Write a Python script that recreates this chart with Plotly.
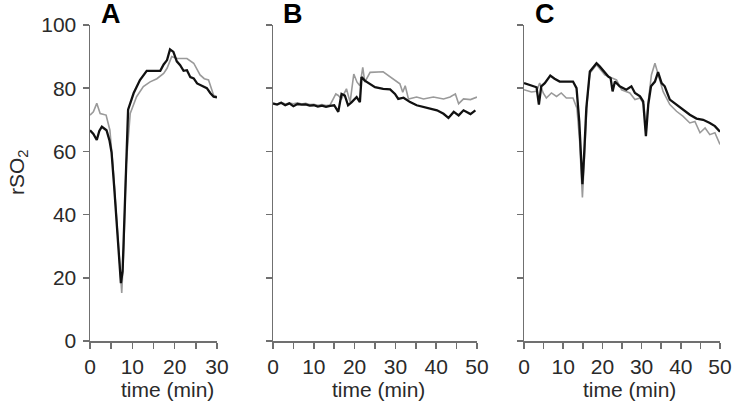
import plotly.graph_objects as go

# ---------------- data ----------------
a_black_t = [0, 0.8, 1.6, 2.2, 2.8, 3.9, 4.6, 5.1, 5.7, 6.3, 6.9, 7.3, 7.7, 8.3, 9.0, 10.3, 11.8, 13.4, 14.5, 16.6, 17.4, 18.2, 18.9, 19.7, 20.5, 21.3, 22.1, 22.9, 23.7, 24.5, 25.3, 26, 26.8, 27.6, 28.4, 29.2, 30]
a_black_y = [66.7, 65.5, 63.6, 66.5, 67.8, 66.7, 63.5, 59.6, 49, 38.3, 27, 18.3, 22, 49, 73.2, 78.4, 82.6, 85.5, 85.5, 85.5, 87.5, 88.9, 92.3, 91.5, 88.5, 87.3, 85.5, 85.7, 83.5, 83.1, 81.5, 81, 80.5, 80, 78.5, 77.3, 77.1]
a_gray_t = [0, 0.8, 1.6, 2.4, 3.8, 4.7, 5.5, 6.3, 7.0, 7.5, 8.0, 8.5, 9.5, 11, 12.6, 14.2, 15.8, 17.4, 18.2, 19.3, 20.5, 22.9, 24.5, 26, 27, 28, 29.2, 30]
a_gray_y = [71.5, 72.5, 75.2, 72, 71.5, 66.7, 54, 39, 25, 15.2, 30, 55, 72, 77.3, 80.5, 82, 83, 84.7, 86.3, 90, 89.4, 89.4, 87.9, 84.2, 83, 82.6, 77.8, 77.3]

b_black_t = [0, 1, 2, 3, 4, 5, 6, 7, 8, 9, 10, 11, 12, 13, 14, 15, 16, 16.8, 17.6, 18.4, 19.3, 20.5, 21.3, 21.7, 22.5, 23.8, 25, 27, 28.7, 29.9, 30.7, 32, 33.6, 35.2, 36.9, 38.5, 40.2, 41.8, 43, 44.3, 45.5, 46.7, 48.4, 49.6]
b_black_y = [75.1, 74.8, 75.4, 74.6, 75.2, 74.3, 75.0, 74.8, 74.9, 74.5, 74.6, 74.2, 74.5, 74.1, 74.4, 74.6, 72.5, 78.2, 77.7, 74.6, 75.6, 77.2, 75.6, 83.5, 82.4, 81.4, 80.3, 79.8, 79.6, 78.2, 76.6, 77.0, 75.6, 74.6, 74.0, 73.5, 73.0, 71.9, 70.6, 72.5, 71.4, 73.0, 71.8, 73.0]
b_gray_t = [0, 1, 2, 3, 4, 5, 6, 7, 8, 9, 10, 11, 12, 13, 14, 15.4, 16, 16.8, 18, 18.9, 19.8, 20.6, 21.3, 22, 22.5, 23.8, 27, 29.5, 31.1, 31.8, 32.4, 33.2, 35.2, 36.9, 39.3, 41.8, 43.4, 44.7, 45.5, 46.7, 48.4, 50]
b_gray_y = [75.3, 75.0, 75.5, 75.0, 75.3, 75.1, 75.4, 75.0, 75.2, 74.8, 74.9, 74.6, 74.8, 74.5, 74.7, 78.2, 77.7, 76.6, 79.8, 75.6, 84.5, 81.9, 80.8, 86.6, 81.9, 85.0, 85.2, 82.9, 81.4, 78.7, 80.8, 76.6, 77.2, 76.6, 77.2, 76.6, 77.2, 78.2, 75.1, 76.6, 76.4, 77.2]

c_black_t = [0, 1.4, 3.2, 3.8, 4.4, 5.3, 6.7, 7.8, 9.1, 12.5, 13.4, 14.1, 14.7, 14.9, 15.3, 15.9, 16.8, 17.6, 18.5, 19.3, 20.6, 21.5, 22.1, 22.6, 23.2, 24.4, 26.1, 27.4, 28.3, 29.6, 30.4, 31.1, 31.7, 32.4, 33.4, 34.2, 35.1, 35.9, 37.2, 38.9, 40.6, 42.3, 44, 45.7, 47.4, 48.7, 50]
c_black_y = [81.6, 81.1, 80.3, 74.8, 80.6, 81.6, 84, 83, 82.1, 82.1, 80, 69.5, 55.9, 49.6, 58, 73.7, 85.3, 86.6, 87.9, 86.9, 84.8, 83.7, 83.2, 79, 82.1, 80.6, 79.5, 80.6, 78.5, 77.4, 75.8, 64.8, 74.8, 80.6, 82.1, 85.1, 81.6, 80.6, 76.4, 74.8, 73.1, 71.6, 70.4, 70, 69, 68, 66.2]
c_gray_t = [0, 1.0, 1.9, 3.2, 4.0, 4.9, 5.7, 7.0, 8.3, 9.5, 10.8, 12.5, 13.5, 14.2, 14.9, 15.5, 16.1, 16.8, 18.5, 20.6, 23.6, 24.9, 27, 28.3, 29.6, 30.6, 31.1, 31.7, 32.5, 33.4, 34.2, 35.5, 37.2, 38.9, 40.6, 42.3, 43.6, 44.9, 46.2, 47.4, 48.7, 50]
c_gray_y = [79.5, 79.0, 78.8, 79.0, 81.6, 78.5, 76.9, 78.5, 77.4, 78.5, 76.9, 76.9, 73.7, 63.2, 45.4, 60, 75.6, 84.7, 87.4, 84.2, 82.6, 79.5, 78.5, 76.4, 76.9, 74.8, 65.9, 75.8, 84.2, 87.9, 84.7, 78.9, 74.8, 72.7, 71.1, 69.0, 69.5, 65.9, 67.4, 65.3, 65.9, 62.2]

y_ticks = [0, 20, 40, 60, 80, 100]
y_tick_text = ["0", "20", "40", "60", "80", "100"]
a_x_ticks = [0, 5, 10, 15, 20, 25, 30]
a_x_text = ["0", " ", "10", " ", "20", " ", "30"]
bc_x_ticks = [0, 5, 10, 15, 20, 25, 30, 35, 40, 45, 50]
bc_x_text = ["0", " ", "10", " ", "20", " ", "30", " ", "40", " ", "50"]
panel_letters = ["A", "B", "C"]

# ---------------- figure ----------------
W, H = 737, 420
FONT = "Liberation Sans, Arial, sans-serif"
TXT = "#2a2a2a"
AX = "#707070"
BLACK = "#111111"
GRAY = "#9a9a9a"

fig = go.Figure()
series = [
    (a_gray_t, a_gray_y, GRAY, 1.6, "x", "y"),
    (a_black_t, a_black_y, BLACK, 2.3, "x", "y"),
    (b_gray_t, b_gray_y, GRAY, 1.6, "x2", "y2"),
    (b_black_t, b_black_y, BLACK, 2.3, "x2", "y2"),
    (c_gray_t, c_gray_y, GRAY, 1.6, "x3", "y3"),
    (c_black_t, c_black_y, BLACK, 2.3, "x3", "y3"),
]
for t, v, col, w, xa, ya in series:
    fig.add_trace(go.Scatter(x=t, y=v, mode="lines", line=dict(color=col, width=w),
                             xaxis=xa, yaxis=ya, showlegend=False, hoverinfo="skip"))

px_x = lambda p: p / W
ybot, ytop = (H - 341) / H, (H - 25) / H
doms = [(90, 217), (273, 477), (524, 720)]

common_axis = dict(showline=True, linecolor=AX, linewidth=1.5, ticks="outside", ticklen=6,
                   tickcolor=AX, tickwidth=1.5, showgrid=False, zeroline=False,
                   tickfont=dict(family=FONT, size=21, color=TXT), automargin=False,
                   fixedrange=True, ticklabeloverflow="allow")

layout = dict(width=W, height=H, margin=dict(l=0, r=0, t=0, b=0),
              paper_bgcolor="white", plot_bgcolor="white", showlegend=False)

for i, (d0, d1) in enumerate(doms):
    sfx = "" if i == 0 else str(i + 1)
    ticks = a_x_ticks if i == 0 else bc_x_ticks
    texts = a_x_text if i == 0 else bc_x_text
    xr = [0, 30] if i == 0 else [0, 50]
    layout["xaxis" + sfx] = dict(common_axis, domain=[px_x(d0), px_x(d1)], range=xr,
                                 tickmode="array", tickvals=ticks, ticktext=texts,
                                 anchor="y" + sfx)
    layout["yaxis" + sfx] = dict(common_axis, domain=[ybot, ytop], range=[0, 100],
                                 tickmode="array", tickvals=y_ticks, ticktext=y_tick_text,
                                 showticklabels=(i == 0), anchor="x" + sfx,
                                 ticklabelstandoff=2)

fig.update_layout(**layout)

ann = []
letter_x = [111, 293, 545]
for L, lx in zip(panel_letters, letter_x):
    ann.append(dict(text="<b>%s</b>" % L, x=px_x(lx), y=(H - 14) / H, xref="paper", yref="paper",
                    showarrow=False, font=dict(family=FONT, size=27, color="#000000"),
                    xanchor="center", yanchor="middle"))
title_x = [167, 378, 629]
for tx in title_x:
    ann.append(dict(text="time (min)", x=px_x(tx), y=(H - 389) / H, xref="paper", yref="paper",
                    showarrow=False, font=dict(family=FONT, size=21, color=TXT),
                    xanchor="center", yanchor="middle"))
ann.append(dict(text="rSO<sub>2</sub>", x=px_x(18), y=(H - 172) / H, xref="paper", yref="paper",
                showarrow=False, textangle=-90, font=dict(family=FONT, size=21, color=TXT),
                xanchor="center", yanchor="middle"))
fig.update_layout(annotations=ann)

fig.write_html("out.html", config={"displayModeBar": False, "staticPlot": True},
               post_script="document.body.style.margin='0';document.body.style.overflow='hidden';")
